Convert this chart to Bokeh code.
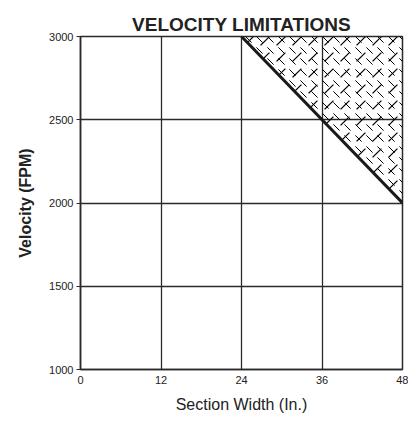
from bokeh.plotting import figure
from bokeh.models import FixedTicker, Range1d
from bokeh.embed import file_html
from bokeh.resources import INLINE

# Data
x_ticks = [0, 12, 24, 36, 48]
y_ticks = [1000, 1500, 2000, 2500, 3000]
limit_width = [24, 48]          # section width (in.)
limit_velocity = [3000, 2000]   # max velocity (FPM)
region_x = [24, 48, 48]
region_y = [3000, 3000, 2000]

FONT = "Liberation Sans"
DARK = "#2a2a2a"

p = figure(width=408, height=420, output_backend="svg", toolbar_location=None,
           x_range=Range1d(0, 48), y_range=Range1d(1000, 3000),
           min_border_left=80, min_border_right=6, min_border_top=36, min_border_bottom=51,
           title="VELOCITY LIMITATIONS")
p.title.text_font = FONT
p.title.text_font_size = "19px"
p.title.text_font_style = "bold"
p.title.text_color = "#222222"
p.title.align = "center"
p.title.offset = 6
p.title.standoff = 3

p.outline_line_color = DARK
p.outline_line_width = 1.5
p.outline_line_alpha = 1.0
p.background_fill_color = "white"
p.border_fill_color = "white"

# Hatched region
p.patch(region_x, region_y, fill_alpha=0, line_alpha=0,
        hatch_pattern="right_diagonal_dash", hatch_color="black", hatch_scale=16, hatch_weight=1.2)
p.patch(region_x, region_y, fill_alpha=0, line_alpha=0,
        hatch_pattern="left_diagonal_dash", hatch_color="black", hatch_scale=11, hatch_weight=1.0)

p.line(limit_width, limit_velocity, line_color="#1a1a1a", line_width=3)

p.xaxis.ticker = FixedTicker(ticks=x_ticks)
p.yaxis.ticker = FixedTicker(ticks=y_ticks)
p.xgrid.ticker = FixedTicker(ticks=x_ticks)
p.ygrid.ticker = FixedTicker(ticks=y_ticks)
for g in (p.xgrid, p.ygrid):
    g.grid_line_color = DARK
    g.grid_line_width = 1.3
    g.grid_line_alpha = 1.0

for ax in (p.xaxis, p.yaxis):
    ax.axis_line_color = DARK
    ax.axis_line_width = 1.5
    ax.major_tick_line_color = DARK
    ax.minor_tick_line_color = None
    ax.major_label_text_font = FONT
    ax.major_label_text_font_size = "11px"
    ax.major_label_text_color = "#222222"
    ax.axis_label_text_font = FONT
    ax.axis_label_text_color = "#222222"

p.xaxis.major_tick_out = 0
p.xaxis.major_tick_in = 0
p.xaxis.major_label_standoff = 6
p.yaxis.major_tick_out = 4
p.yaxis.major_tick_in = 0
p.yaxis.major_label_standoff = 3

p.xaxis.axis_label = "Section Width (In.)"
p.xaxis.axis_label_text_font_size = "16px"
p.xaxis.axis_label_text_font_style = "normal"
p.xaxis.axis_label_standoff = 9
p.yaxis.axis_label = "Velocity (FPM)"
p.yaxis.axis_label_text_font_size = "16px"
p.yaxis.axis_label_text_font_style = "bold"
p.yaxis.axis_label_standoff = 12

open("out.html", "w").write(file_html(p, INLINE))
